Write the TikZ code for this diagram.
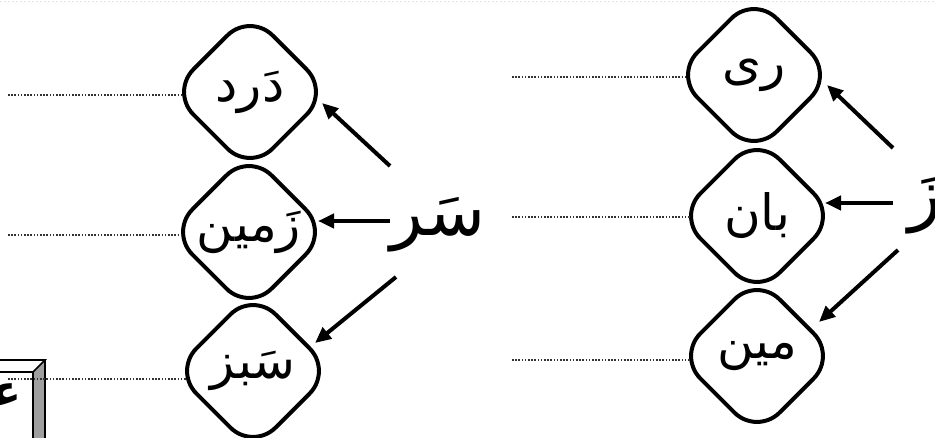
\documentclass[tikz,border=0pt]{standalone}
\usepackage{fontspec}
\usetikzlibrary{shapes.geometric,arrows.meta,calc}
\newfontfamily\arabicfont[Script=Arabic, BoldFont={DejaVu Sans Bold}]{DejaVu Sans}
\TeXXeTstate=1
\begin{document}
\begin{tikzpicture}[x=1pt,y=-1pt,
  dia/.style={draw, line width=4pt, diamond, minimum width=160pt, minimum height=160pt, inner sep=0pt, rounded corners=32pt, font=\arabicfont\fontsize{50}{52}\selectfont},
  big/.style={inner sep=0pt, font=\arabicfont\fontsize{68}{70}\selectfont},
  arr/.style={line width=4pt, -{Triangle[length=16pt,width=14pt]}},
  blank/.style={line width=2pt, black!80, dash pattern=on 1.6pt off 1.6pt},
  boxline/.style={line width=1.6pt}]
\useasboundingbox (0,0) rectangle (935,438);
\begin{scope}
\clip (0,0) rectangle (935,438);
% faint top line
\draw[gray!20, line width=0.8pt, dash pattern=on 2pt off 2pt] (0,1) -- (935,1);
% partial box bottom-left
\fill[gray!75] (33,372) -- (45,360) -- (45,440) -- (33,440) -- cycle;
\draw[boxline] (-2,360) -- (45,360) -- (33,372) -- (-2,372);
\draw[boxline] (33,372) -- (33,440);
\draw[boxline] (45,360) -- (45,440);
\node[inner sep=0pt, anchor=east, font=\arabicfont\bfseries\fontsize{44}{46}\selectfont] (boxtxt) at (22,395) {\beginR ع‍\endR};
% left group
\node[dia] (L1) at (250,92) {\beginR دَرد\endR};
\node[dia] (L2) at (249,232) {\beginR زَمین\endR};
\node[dia] (L3) at (253,371) {\beginR سَبز\endR};
\node[big] (S) at (438,225) {\beginR سَر\endR};
% right group
\node[dia] (R1) at (754,75) {\beginR ری\endR};
\node[dia] (R2) at (757,216) {\beginR بان\endR};
\node[dia] (R3) at (757,356) {\beginR مین\endR};
\node[big, anchor=west] (Z) at (908,205) {\beginR زَ\endR};
% dotted answer lines
\coordinate (l1s) at (8,95);  \coordinate (l2s) at (8,235);  \coordinate (l3s) at (8,379);
\coordinate (r1s) at (512,77); \coordinate (r2s) at (512,217); \coordinate (r3s) at (512,360);
\draw[blank] (l1s) -- ($(L1.center)+(-66,3)$);
\draw[blank] (l2s) -- ($(L2.center)+(-66,3)$);
\draw[blank] (l3s) -- ($(L3.center)+(-66,8)$);
\draw[blank] (r1s) -- ($(R1.center)+(-67,2)$);
\draw[blank] (r2s) -- ($(R2.center)+(-67,1)$);
\draw[blank] (r3s) -- ($(R3.center)+(-67,4)$);
% arrows
\coordinate (sa1) at (390,166); \coordinate (sa2) at (390,221); \coordinate (sa3) at (396,277);
\coordinate (za1) at (893,148); \coordinate (za2) at (893,203); \coordinate (za3) at (898,250);
\draw[arr] (sa1) -- ($(L1.center)+(72,11)$);
\draw[arr] (sa2) -- ($(L2.center)+(69,-11)$);
\draw[arr] (sa3) -- ($(L3.center)+(62,-28)$);
\draw[arr] (za1) -- ($(R1.center)+(73,10)$);
\draw[arr] (za2) -- ($(R2.center)+(68,-13)$);
\draw[arr] (za3) -- ($(R3.center)+(62,-34)$);
\end{scope}
\end{tikzpicture}
\end{document}
